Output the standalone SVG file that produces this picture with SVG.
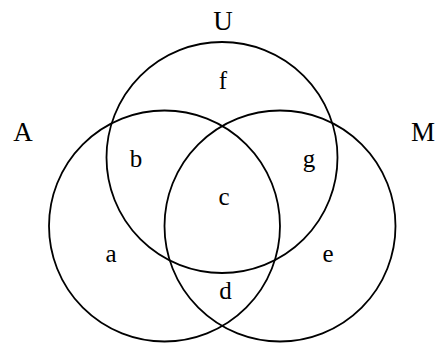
<svg xmlns="http://www.w3.org/2000/svg" width="440" height="343" viewBox="0 0 440 343">
<style>
.c{fill:none;stroke:#000;stroke-width:1.8}
text{font-family:"Liberation Serif","Times New Roman",serif;font-size:25px;text-anchor:middle;fill:#000}
.big{font-size:27px}
</style>
<rect width="440" height="343" fill="#fff"/>
<g id="circle-U"><circle class="c" cx="222" cy="157.5" r="115.5"/></g>
<g id="circle-A"><circle class="c" cx="164.5" cy="226" r="115.5"/></g>
<g id="circle-M"><circle class="c" cx="280" cy="226" r="115.5"/></g>
<g id="labels">
<text class="big" x="223" y="30">U</text>
<text class="big" x="23" y="141">A</text>
<text class="big" x="423" y="141">M</text>
<text x="223" y="89">f</text>
<text x="136" y="166.5">b</text>
<text x="309" y="166.5">g</text>
<text x="224" y="205">c</text>
<text x="111" y="261.5">a</text>
<text x="328" y="261.5">e</text>
<text x="225.5" y="299">d</text>
</g>
</svg>
